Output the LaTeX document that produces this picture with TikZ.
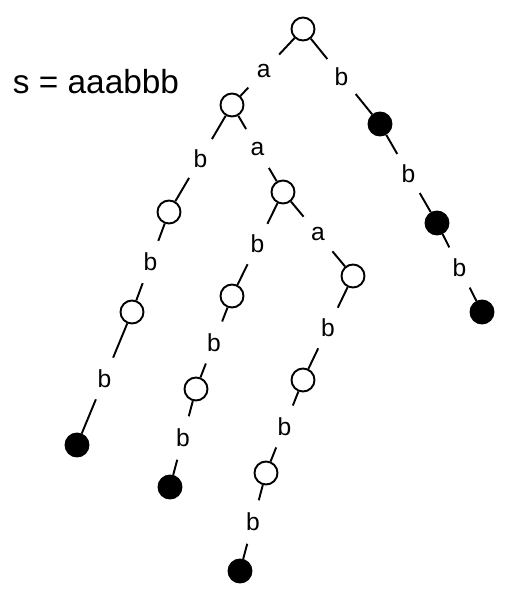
\documentclass[tikz,border=0pt]{standalone}
\usepackage{fontspec}
\setmainfont{Liberation Sans}

\begin{document}
\begin{tikzpicture}[x=0.02cm, y=-0.02cm, line width=1.1pt,
    state/.style={draw, circle, minimum size=0.46cm, inner sep=0pt, fill=white},
    final/.style={state, fill=black},
    sym/.style={circle, fill=white, minimum size=0.9cm, inner sep=0pt, font=\fontsize{14}{17}\selectfont}]
    \useasboundingbox (0,0) rectangle (511,600);

    \node[font=\fontsize{19}{23}\selectfont] (S) at (96, 82) {s = aaabbb};

    \node[state]  (n)       at (303,  29) {};
    \node[state]  (na)      at (232, 105) {};
    \node[final]  (nb)      at (380, 124) {};
    \node[final]  (nbb)     at (437, 223) {};
    \node[final]  (nbbb)    at (482, 312) {};

    \node[state]  (nab)     at (169, 212) {};
    \node[state]  (nabb)    at (132, 312) {};
    \node[final]  (nabbb)   at ( 77, 445) {};

    \node[state]  (naa)     at (283, 192) {};
    \node[state]  (naab)    at (232, 296) {};
    \node[state]  (naabb)   at (196, 389) {};
    \node[final]  (naabbb)  at (170, 487) {};

    \node[state]  (naaa)    at (353, 276) {};
    \node[state]  (naaab)   at (303, 380) {};
    \node[state]  (naaabb)  at (266, 473) {};
    \node[final]  (naaabbb) at (240, 571) {};

    \draw (n) -- node[sym, pos=0.57] {a} (na);
    \draw (n) -- node[sym] {b} (nb);
    \draw (nb) -- node[sym] {b} (nbb);
    \draw (nbb) -- node[sym] {b} (nbbb);

    \draw (na) -- node[sym] {b} (nab);
    \draw (nab) -- node[sym] {b} (nabb);
    \draw (nabb) -- node[sym] {b} (nabbb);

    \draw (na) -- node[sym] {a} (naa);
    \draw (naa) -- node[sym] {b} (naab);
    \draw (naab) -- node[sym] {b} (naabb);
    \draw (naabb) -- node[sym] {b} (naabbb);

    \draw (naa) -- node[sym] {a} (naaa);
    \draw (naaa) -- node[sym] {b} (naaab);
    \draw (naaab) -- node[sym] {b} (naaabb);
    \draw (naaabb) -- node[sym] {b} (naaabbb);
\end{tikzpicture}
\end{document}
